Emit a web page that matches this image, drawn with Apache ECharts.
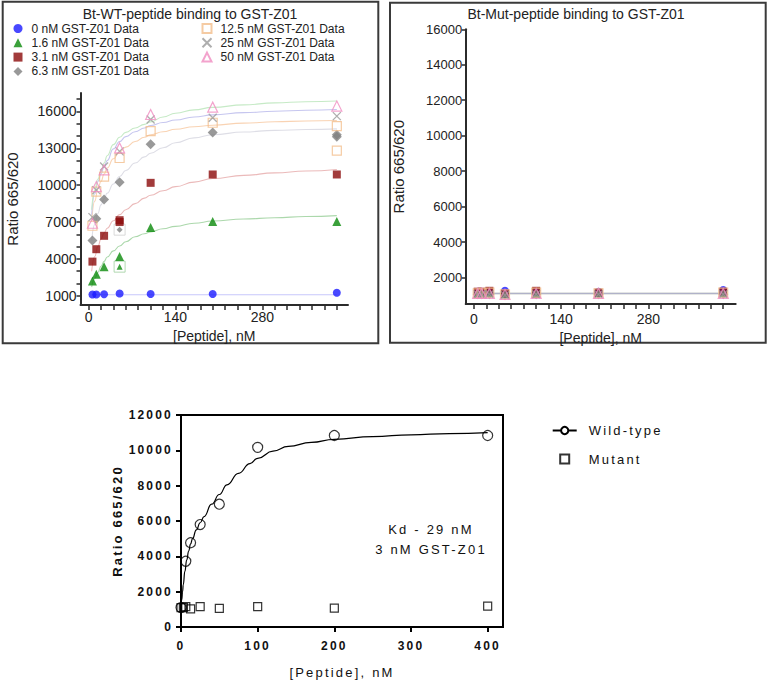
<!DOCTYPE html>
<html><head><meta charset="utf-8">
<script src="https://cdn.jsdelivr.net/npm/echarts@6/dist/echarts.min.js"></script>
<style>
html,body{margin:0;padding:0;background:#fff;}
#topChart{position:absolute;left:0;top:0;width:768px;height:350px;}
#bottomChart{position:absolute;left:0;top:350px;width:768px;height:334px;}
#bottomChart text{letter-spacing:2.2px;}
</style></head><body>
<div id="topChart"></div><div id="bottomChart"></div>
<script>
// ---------- tick / label values ----------
const xTicksTop = [0,20,40,60,80,100,120,140,160,180,200,220,240,260,280,300,320,340,360,380,400];
const xLabelsTop = [0,140,280];
const yTicksLeft = [1000,2000,3000,4000,5000,6000,7000,8000,9000,10000,11000,12000,13000,14000,15000,16000,17000];
const yLabelsLeft = [1000,4000,7000,10000,13000,16000];
const yLabelsRight = [2000,4000,6000,8000,10000,12000,14000,16000];
const xLabelsBottom = [0,100,200,300,400];
const yLabelsBottom = [0,2000,4000,6000,8000,10000,12000];

// ---------- top-left: Bt-WT-peptide ----------
const concX = [6.25, 12.5, 25, 50, 100, 200, 400];
const wt0   = [1110, 1110, 1130, 1190, 1140, 1140, 1240];
const wt16  = [2200, 2750, 3370, 4190, 6560, 7050, 7050];
const wt31  = [3780, 4790, 5880, 7000, 10190, 10870, 10870];
const wt63  = [5500, 7270, 8830, 10240, 13330, 14280, 13930];
const wt125 = [6700, 9480, 10700, 12210, 14390, 15080, 14800];
const wt25  = [7400, 9600, 11520, 12750, 15350, 15480, 15620];
const wt50  = [6900, 9890, 11250, 13030, 15750, 16350, 16440];
const wt31Repeat  = [[50, 7150]];
const wt63Repeat  = [[400, 14100]];
const wt125Repeat = [[400, 12810]];
const wt16Excluded = [[50, 3370]];
const wt63Excluded = [[50, 6380]];

// fitted curves, values
const fitX   = [5, 10, 15, 20, 25, 30, 40, 50, 60, 75, 90, 100, 120, 140, 170, 200, 250, 300, 350, 400];
const fit0   = [1080, 1080, 1080, 1080, 1080, 1080, 1080, 1080, 1080, 1080, 1080, 1080, 1080, 1080, 1080, 1080, 1080, 1080, 1080, 1080];
const fit16  = [1700, 2400, 2900, 3400, 3800, 4150, 4650, 5050, 5400, 5800, 6050, 6200, 6450, 6650, 6900, 7080, 7250, 7350, 7450, 7520];
const fit31  = [3000, 4200, 5000, 5600, 6100, 6500, 7100, 7600, 8000, 8500, 8950, 9180, 9550, 9880, 10250, 10540, 10800, 11000, 11150, 11280];
const fit63  = [5500, 6800, 7700, 8400, 8900, 9350, 10100, 10700, 11200, 11800, 12300, 12600, 13050, 13450, 13850, 14100, 14330, 14460, 14530, 14580];
const fit125 = [7000, 8700, 9700, 10300, 10900, 11400, 12150, 12700, 13100, 13550, 13900, 14100, 14350, 14550, 14750, 14880, 15050, 15160, 15220, 15260];
const fit25  = [7600, 9300, 10300, 10900, 11500, 12000, 12950, 13550, 13950, 14350, 14650, 14850, 15100, 15300, 15550, 15720, 15900, 16020, 16100, 16160];
const fit50  = [8000, 9600, 10500, 11100, 11800, 12400, 13300, 13900, 14300, 14650, 14950, 15150, 15550, 15850, 16130, 16330, 16530, 16700, 16790, 16850];

// ---------- top-right: Bt-Mut-peptide ----------
const mut0   = [1150, 1150, 1150, 1250, 1150, 1200, 1300];
const mut16  = [1100, 1100, 1150, 1100, 1100, 1150, 1150];
const mut31  = [1200, 1200, 1250, 1100, 1250, 1150, 1200];
const mut63  = [1050, 1050, 1050, 1000, 1050, 1050, 1050];
const mut125 = [1100, 1100, 1150, 1050, 1150, 1100, 1150];
const mut25  = [1050, 1050, 1050, 1000, 1050, 1050, 1050];
const mut50  = [1100, 1100, 1100, 1050, 1100, 1100, 1100];
const mutFitX = [6.25, 400];
const mutFit  = [1100, 1100];

// ---------- bottom: 3 nM GST-Z01 ----------
const wtX  = [0, 6.25, 12.5, 25, 50, 100, 200, 400];
const wtY  = [1100, 3720, 4770, 5800, 6950, 10170, 10840, 10840];
const mutX = [0, 3.1, 6.25, 12.5, 25, 50, 100, 200, 400];
const mutY = [1100, 1100, 1150, 1030, 1150, 1050, 1150, 1070, 1180];
const fitWtX = [0, 1, 2, 3, 5, 7.5, 10, 12.5, 15, 20, 25, 30, 40, 50, 60, 75, 90, 100, 120, 140, 170, 200, 250, 300, 350, 400];
const fitWtY = [1100, 1550, 2000, 2400, 3150, 3800, 4300, 4700, 5000, 5500, 5900, 6250, 6950, 7500, 8050, 8700, 9250, 9550, 9950, 10220, 10450, 10620, 10780, 10880, 10950, 11000];

const names = ['0 nM GST-Z01 Data','1.6 nM GST-Z01 Data','3.1 nM GST-Z01 Data','6.3 nM GST-Z01 Data',
               '12.5 nM GST-Z01 Data','25 nM GST-Z01 Data','50 nM GST-Z01 Data'];

const pairs = (xs, ys) => xs.map((x, i) => [x, ys[i]]);
const FONT = 'Liberation Sans, Arial, Helvetica, sans-serif';
const CROSS = 'path://M0,0L10,10M10,0L0,10';
const plain = v => String(v);

const markers = [
  {symbol:'circle', size:8, style:{color:'#1a1aff'}},
  {symbol:'triangle', size:9, style:{color:'#0a8a0a'}},
  {symbol:'rect', size:8, style:{color:'#8b0a0a'}},
  {symbol:'diamond', size:10, style:{color:'#7f7f7f'}},
  {symbol:'rect', size:9, style:{color:'rgba(0,0,0,0)', borderColor:'#f3be8c', borderWidth:1.2}},
  {symbol:CROSS, size:8, style:{color:'rgba(0,0,0,0)', borderColor:'#9a9a9a', borderWidth:1.3}},
  {symbol:'triangle', size:10, style:{color:'rgba(0,0,0,0)', borderColor:'#f08cc0', borderWidth:1.2}}
];
const wtSets = [wt0, wt16, wt31, wt63, wt125, wt25, wt50];
const mutSets = [mut0, mut16, mut31, mut63, mut125, mut25, mut50];
const fitSets = [fit0, fit16, fit31, fit63, fit125, fit25, fit50];
const fitColors = ['#c8c8fb','#acd8ac','#ebbaba','#dedee6','#f9d3b3','#c6c6ef','#c6eac6'];

const series = [];
fitSets.forEach((f, i) => series.push({
  type:'line', xAxisIndex:0, yAxisIndex:0, data:pairs(fitX, f), smooth:0.5, smoothMonotone:'x',
  showSymbol:false, silent:true, z:1, lineStyle:{color:fitColors[i], width:1.1}
}));
series.push({type:'line', xAxisIndex:1, yAxisIndex:1, data:pairs(mutFitX, mutFit), showSymbol:false,
  silent:true, z:1, lineStyle:{color:'#9aa39c', width:1.5}});
series.push({type:'line', xAxisIndex:1, yAxisIndex:1, data:pairs(mutFitX, mutFit), showSymbol:false,
  silent:true, z:1, lineStyle:{color:'#b8b8d8', width:0.8}});
// excluded points (hollow box + small marker)
series.push({type:'scatter', xAxisIndex:0, yAxisIndex:0, data:wt16Excluded, symbol:'rect', symbolSize:11, z:2,
  itemStyle:{color:'rgba(0,0,0,0)', borderColor:'#9fd09f', borderWidth:1}});
series.push({type:'scatter', xAxisIndex:0, yAxisIndex:0, data:wt16Excluded, symbol:'triangle', symbolSize:6, z:3,
  itemStyle:{color:'#0a8a0a'}});
series.push({type:'scatter', xAxisIndex:0, yAxisIndex:0, data:wt63Excluded, symbol:'rect', symbolSize:11, z:2,
  itemStyle:{color:'rgba(0,0,0,0)', borderColor:'#cfcfcf', borderWidth:1}});
series.push({type:'scatter', xAxisIndex:0, yAxisIndex:0, data:wt63Excluded, symbol:'diamond', symbolSize:6, z:3,
  itemStyle:{color:'#7f7f7f'}});
const repeats = {2: wt31Repeat, 3: wt63Repeat, 4: wt125Repeat};
markers.forEach((m, i) => {
  const d = pairs(concX, wtSets[i]).concat(repeats[i] || []);
  series.push({type:'scatter', name:names[i], xAxisIndex:0, yAxisIndex:0, data:d, symbol:m.symbol,
    symbolSize:m.size, itemStyle:m.style, z:4});
});
markers.forEach((m, i) => {
  series.push({type:'scatter', name:names[i], xAxisIndex:1, yAxisIndex:1, data:pairs(concX, mutSets[i]),
    symbol:m.symbol, symbolSize:m.size, itemStyle:m.style, z:4});
});

const axisCol = '#2b2b2b';
function xAx(grid, min, max, margin) {
  return {type:'value', gridIndex:grid, min:min, max:max, name:'[Peptide], nM', nameLocation:'middle', nameGap:23,
    nameTextStyle:{fontFamily:FONT, fontSize:14, color:'#222'},
    axisLine:{onZero:false, lineStyle:{color:axisCol, width:2}},
    axisTick:{customValues:xTicksTop, length:5, lineStyle:{color:axisCol, width:1.5}},
    axisLabel:{customValues:xLabelsTop, formatter:plain, fontFamily:FONT, fontSize:14, color:'#222', margin:margin},
    splitLine:{show:false}};
}
function yAx(grid, min, max, ticks, labels, fs, margin, gap) {
  return {type:'value', gridIndex:grid, min:min, max:max, name:'Ratio 665/620', nameLocation:'middle', nameGap:gap,
    nameTextStyle:{fontFamily:FONT, fontSize:15, color:'#222'},
    axisLine:{onZero:false, lineStyle:{color:axisCol, width:2}},
    axisTick:{customValues:ticks, length:4, lineStyle:{color:axisCol, width:1.5}},
    axisLabel:{customValues:labels, formatter:plain, fontFamily:FONT, fontSize:fs, color:'#222', margin:margin},
    splitLine:{show:false}};
}

const legendBase = {orient:'vertical', top:16.5, itemWidth:9, itemHeight:9, itemGap:0.3,
  textStyle:{fontFamily:FONT, fontSize:12, color:'#222', lineHeight:14, padding:[0,0,0,4]}};

const chartTop = echarts.init(document.getElementById('topChart'), null, {renderer:'svg', width:768, height:350});
chartTop.setOption({
  animation:false,
  backgroundColor:'#fff',
  grid:[
    {left:80.5, top:93, width:267.5, height:212},
    {left:465.7, top:29.3, width:270, height:275.7}
  ],
  xAxis:[xAx(0, -13, 418, 5), xAx(1, -13, 420, 8)],
  yAxis:[yAx(0, 250, 17500, yTicksLeft, yLabelsLeft, 14, 4, 61), yAx(1, 500, 16000, yLabelsRight, yLabelsRight, 13, 3.5, 60)],
  legend:[
    Object.assign({}, legendBase, {left:8.5, data:names.slice(0,4)}),
    Object.assign({}, legendBase, {left:196.5, data:names.slice(4)})
  ],
  graphic:[
    {type:'rect', shape:{x:2.7, y:1.7, width:375.6, height:341.6}, style:{fill:'none', stroke:'#3a3a3a', lineWidth:2}},
    {type:'rect', shape:{x:390, y:2.7, width:375.7, height:340}, style:{fill:'none', stroke:'#3a3a3a', lineWidth:2}},
    {type:'text', x:190, y:13.5, style:{text:'Bt-WT-peptide binding to GST-Z01', font:'14px ' + FONT, fill:'#222', textAlign:'center', textVerticalAlign:'middle'}},
    {type:'text', x:576, y:13.5, style:{text:'Bt-Mut-peptide binding to GST-Z01', font:'14px ' + FONT, fill:'#222', textAlign:'center', textVerticalAlign:'middle'}}
  ],
  series:series
});

// ---------- bottom chart ----------
const chartBottom = echarts.init(document.getElementById('bottomChart'), null, {renderer:'svg', width:768, height:334});
chartBottom.setOption({
  animation:false,
  backgroundColor:'#fff',
  grid:{left:181, top:65, width:322, height:214, show:true, borderColor:'#000', borderWidth:2, backgroundColor:'rgba(0,0,0,0)'},
  xAxis:{type:'value', min:0, max:420, name:'[Peptide], nM', nameLocation:'middle', nameGap:39,
    nameTextStyle:{fontFamily:FONT, fontSize:13, color:'#111'},
    axisLine:{onZero:false, lineStyle:{color:'#000', width:2}},
    axisTick:{customValues:xLabelsBottom, length:5, lineStyle:{color:'#000', width:2}},
    axisLabel:{customValues:xLabelsBottom, formatter:plain, fontFamily:FONT, fontSize:12, fontWeight:'bold', color:'#111', margin:13},
    splitLine:{show:false}},
  yAxis:{type:'value', min:0, max:12000, name:'Ratio 665/620', nameLocation:'middle', nameGap:57,
    nameTextStyle:{fontFamily:FONT, fontSize:13, fontWeight:'bold', color:'#111'},
    axisLine:{onZero:false, lineStyle:{color:'#000', width:2}},
    axisTick:{customValues:yLabelsBottom, length:5, lineStyle:{color:'#000', width:2}},
    axisLabel:{customValues:yLabelsBottom, formatter:plain, fontFamily:FONT, fontSize:12, fontWeight:'bold', color:'#111', margin:8},
    splitLine:{show:false}},
  legend:{orient:'vertical', left:546.7, top:69, itemWidth:24, itemHeight:9, itemGap:15.6,
    data:['Wild-type', {name:'Mutant', icon:'path://M0,0H10V10H0Z'}],
    textStyle:{fontFamily:FONT, fontSize:13, color:'#111', padding:[0,0,0,7]}},
  graphic:[
    {type:'text', x:431, y:179, style:{text:'Kd - 29 nM', font:'13px ' + FONT, fill:'#111', textAlign:'center', textVerticalAlign:'middle'}},
    {type:'text', x:431, y:199, style:{text:'3 nM GST-Z01', font:'13px ' + FONT, fill:'#111', textAlign:'center', textVerticalAlign:'middle'}}
  ],
  series:[
    {type:'line', name:'Wild-type', data:pairs(fitWtX, fitWtY), smooth:0.5, smoothMonotone:'x', showSymbol:false,
      symbol:'emptyCircle', symbolSize:10, lineStyle:{color:'#000', width:1.2}, itemStyle:{color:'#000'}},
    {type:'scatter', name:'Wild-type', data:pairs(wtX, wtY), symbol:'circle', symbolSize:10,
      itemStyle:{color:'rgba(0,0,0,0)', borderColor:'#000', borderWidth:1.2}},
    {type:'scatter', name:'Mutant', data:pairs(mutX, mutY), symbol:'rect', symbolSize:8,
      itemStyle:{color:'rgba(0,0,0,0)', borderColor:'#000', borderWidth:1.2}}
  ]
});
</script>
</body></html>
